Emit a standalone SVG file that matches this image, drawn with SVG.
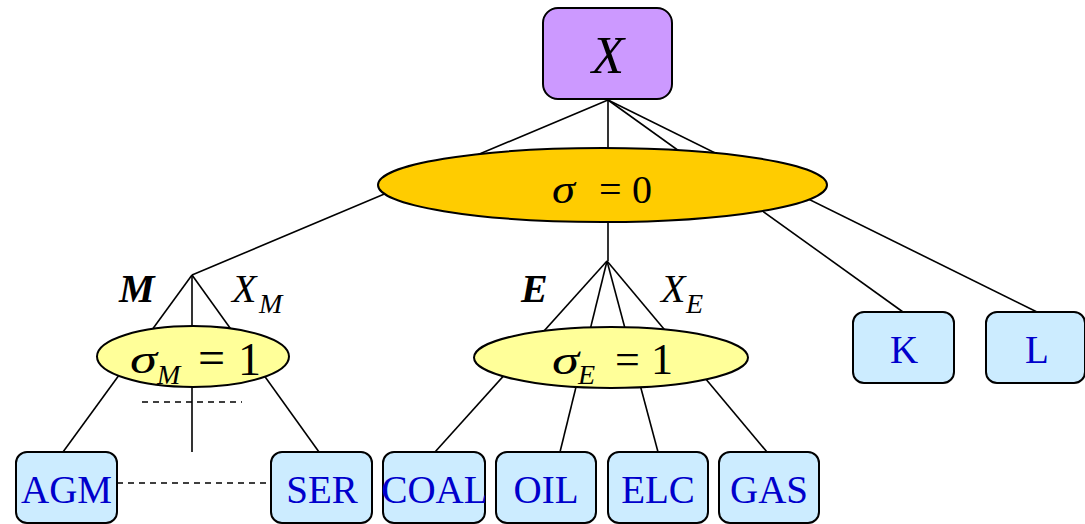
<svg xmlns="http://www.w3.org/2000/svg" width="1085" height="524" viewBox="0 0 1085 524">
<style>
.ln{stroke:#000;stroke-width:1.6;fill:none}
.dash{stroke:#000;stroke-width:1.6;fill:none;stroke-dasharray:6,5}
.box{fill:#CCECFF;stroke:#000;stroke-width:2}
.bt{font-family:"Liberation Serif",serif;font-size:39px;fill:#0000CC;text-anchor:middle}
.m{font-family:"Liberation Serif",serif;fill:#000}
.i{font-style:italic}
</style>
<rect width="1085" height="524" fill="#fff"/>
<g id="connectors">
<line class="ln" x1="608" y1="100" x2="192" y2="275"/>
<line class="ln" x1="608" y1="100" x2="608" y2="261"/>
<line class="ln" x1="608" y1="100" x2="903" y2="312"/>
<line class="ln" x1="608" y1="100" x2="1037" y2="312"/>
<line class="ln" x1="192" y1="275" x2="63" y2="452"/>
<line class="ln" x1="192" y1="275" x2="192" y2="452"/>
<line class="ln" x1="192" y1="275" x2="319" y2="452"/>
<line class="ln" x1="607" y1="261" x2="435" y2="452"/>
<line class="ln" x1="607" y1="261" x2="560" y2="452"/>
<line class="ln" x1="607" y1="261" x2="658" y2="452"/>
<line class="ln" x1="607" y1="261" x2="767" y2="452"/>
<line class="dash" x1="142" y1="402" x2="242" y2="402"/>
<line class="dash" x1="117" y1="483" x2="271" y2="483"/>
</g>
<g id="labels">
<text class="m" x="119" y="302" font-size="40" font-weight="bold" font-style="italic">M</text>
<text class="m i" x="232" y="302" font-size="40">X</text>
<text class="m i" x="259" y="313" font-size="28">M</text>
<text class="m" x="521" y="302" font-size="40" font-weight="bold" font-style="italic">E</text>
<text class="m i" x="661" y="302" font-size="40">X</text>
<text class="m i" x="686" y="313" font-size="28">E</text>
</g>
<g id="node-X">
<rect x="543" y="8" width="129" height="91" rx="15" fill="#CC99FF" stroke="#000" stroke-width="2"/>
<text class="m i" x="608" y="73" font-size="53" text-anchor="middle">X</text>
</g>
<g id="node-sigma0">
<ellipse cx="602.5" cy="185" rx="224.5" ry="37" fill="#FFCC00" stroke="#000" stroke-width="2"/>
<text class="m i" x="552" y="203" font-size="40" textLength="23" lengthAdjust="spacingAndGlyphs">σ</text>
<text class="m" x="599" y="203" font-size="40">=</text>
<text class="m" x="632" y="203" font-size="40">0</text>
</g>
<g id="node-sigmaM">
<ellipse cx="193" cy="356.5" rx="96" ry="30.5" fill="#FFFF99" stroke="#000" stroke-width="2"/>
<text class="m i" x="130" y="373" font-size="40" textLength="27" lengthAdjust="spacingAndGlyphs">σ</text>
<text class="m i" x="157" y="384" font-size="28">M</text>
<text class="m" x="198" y="374" font-size="48">=</text>
<text class="m" x="238" y="375" font-size="46">1</text>
</g>
<g id="node-sigmaE">
<ellipse cx="611" cy="357.5" rx="137" ry="30.5" fill="#FFFF99" stroke="#000" stroke-width="2"/>
<text class="m i" x="552" y="374" font-size="42" textLength="27" lengthAdjust="spacingAndGlyphs">σ</text>
<text class="m i" x="578" y="384" font-size="28">E</text>
<text class="m" x="615" y="374" font-size="44">=</text>
<text class="m" x="651" y="374" font-size="44">1</text>
</g>
<g id="node-AGM"><rect class="box" x="16" y="452" width="101" height="71" rx="11"/><text class="bt" x="66.5" y="503">AGM</text></g>
<g id="node-SER"><rect class="box" x="271" y="452" width="101" height="71" rx="11"/><text class="bt" x="322" y="503">SER</text></g>
<g id="node-COAL"><rect class="box" x="383" y="452" width="102" height="71" rx="11"/><text class="bt" x="434.5" y="503">COAL</text></g>
<g id="node-OIL"><rect class="box" x="496" y="452" width="100" height="71" rx="11"/><text class="bt" x="546" y="503">OIL</text></g>
<g id="node-ELC"><rect class="box" x="608" y="452" width="100" height="71" rx="11"/><text class="bt" x="658" y="503">ELC</text></g>
<g id="node-GAS"><rect class="box" x="719" y="452" width="100" height="71" rx="11"/><text class="bt" x="769" y="503">GAS</text></g>
<g id="node-K"><rect class="box" x="853" y="312" width="101" height="71" rx="11"/><text class="bt" x="904" y="363">K</text></g>
<g id="node-L"><rect class="box" x="986" y="312" width="99" height="71" rx="11"/><text class="bt" x="1037" y="363">L</text></g>
</svg>
